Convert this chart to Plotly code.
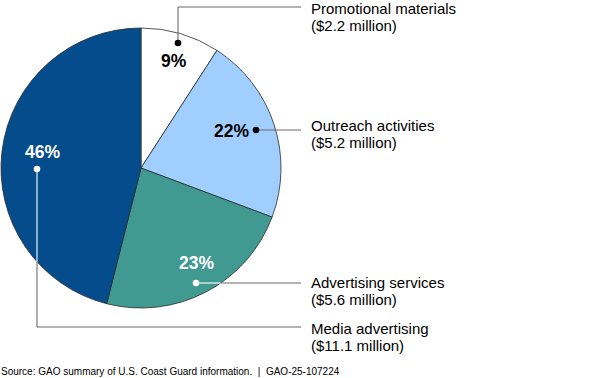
import plotly.graph_objects as go
import math

# ---- data ----
categories = ["Promotional materials", "Outreach activities", "Advertising services", "Media advertising"]
values_musd = [2.2, 5.2, 5.6, 11.1]
pct_labels = ["9%", "22%", "23%", "46%"]
value_labels = ["($2.2 million)", "($5.2 million)", "($5.6 million)", "($11.1 million)"]
source_text = "Source: GAO summary of U.S. Coast Guard information.  |  GAO-25-107224"

# ---- styles / layout ----
W, H = 600, 378
colors = ["#FFFFFF", "#A0CFFF", "#419A91", "#054C8D"]
pct_colors = ["#000000", "#000000", "#FFFFFF", "#FFFFFF"]
dot_colors = ["#000000", "#000000", "#FFFFFF", "#FFFFFF"]
CX, CY, R = 141, 168, 140          # pie centre / radius in px
dots = [(178, 43), (256, 130), (196, 283), (37, 169)]
pct_pos = [(174, 61), (231, 131), (196, 263), (42, 152)]
label_x = 309
line_end_x = 301
line_y = [7, 130, 283, 327]
text_y1 = [8.5, 125.5, 282.5, 328.5]
LINE_GAP = 17

def px(x):
    return x / W

def py(y):
    return 1 - y / H

fig = go.Figure(go.Pie(
    labels=categories,
    values=values_musd,
    sort=False,
    direction="clockwise",
    rotation=0,
    marker=dict(colors=colors, line=dict(color="#2b2b2b", width=0.8)),
    textinfo="none",
    hoverinfo="label+value",
    showlegend=False,
    domain=dict(x=[px(CX - R), px(CX + R)], y=[py(CY + R), py(CY - R)]),
))

shapes = []
GRAY = "#6b6b6b"

def seg(x0, y0, x1, y1, color, layer="above"):
    shapes.append(dict(type="line", xref="paper", yref="paper",
                       x0=px(x0), y0=py(y0), x1=px(x1), y1=py(y1),
                       line=dict(color=color, width=1.1), layer=layer))

d = dots[0]
seg(d[0], d[1], d[0], line_y[0], GRAY)
seg(d[0], line_y[0], line_end_x, line_y[0], GRAY)
d = dots[1]
seg(d[0], d[1], line_end_x, line_y[1], GRAY)
d = dots[2]
edge_x = CX + math.sqrt(R**2 - (d[1] - CY)**2)
seg(d[0], d[1], edge_x, d[1], "#FFFFFF")
seg(edge_x, d[1], line_end_x, line_y[2], GRAY)
d = dots[3]
edge_y = CY + math.sqrt(R**2 - (d[0] - CX)**2)
seg(d[0], d[1], d[0], edge_y, "#FFFFFF")
seg(d[0], edge_y, d[0], line_y[3], GRAY)
seg(d[0], line_y[3], line_end_x, line_y[3], GRAY)

for (x, y), c in zip(dots, dot_colors):
    rr = 3.3
    shapes.append(dict(type="circle", xref="paper", yref="paper",
                       x0=px(x - rr), x1=px(x + rr), y0=py(y + rr), y1=py(y - rr),
                       fillcolor=c, line=dict(width=0), layer="above"))

FONT = "Liberation Sans, Arial"
annotations = []
for (x, y), t, c in zip(pct_pos, pct_labels, pct_colors):
    annotations.append(dict(x=px(x), y=py(y), xref="paper", yref="paper",
                            text="<b>%s</b>" % t, showarrow=False,
                            xanchor="center", yanchor="middle",
                            font=dict(family=FONT, size=17.5, color=c)))
for name, val, ty in zip(categories, value_labels, text_y1):
    for txt, yy in ((name, ty), (val, ty + LINE_GAP)):
        annotations.append(dict(x=px(label_x), y=py(yy), xref="paper", yref="paper",
                                text=txt, showarrow=False, align="left",
                                xanchor="left", yanchor="middle",
                                font=dict(family=FONT, size=15, color="#000000")))
annotations.append(dict(x=px(-1), y=py(371), xref="paper", yref="paper",
                        text=source_text, showarrow=False, xanchor="left", yanchor="middle",
                        font=dict(family=FONT, size=10, color="#000000")))

fig.update_layout(
    width=W, height=H,
    margin=dict(l=0, r=0, t=0, b=0),
    paper_bgcolor="white", plot_bgcolor="white",
    shapes=shapes, annotations=annotations,
)

fig.write_html("out.html", config={"displayModeBar": False})
